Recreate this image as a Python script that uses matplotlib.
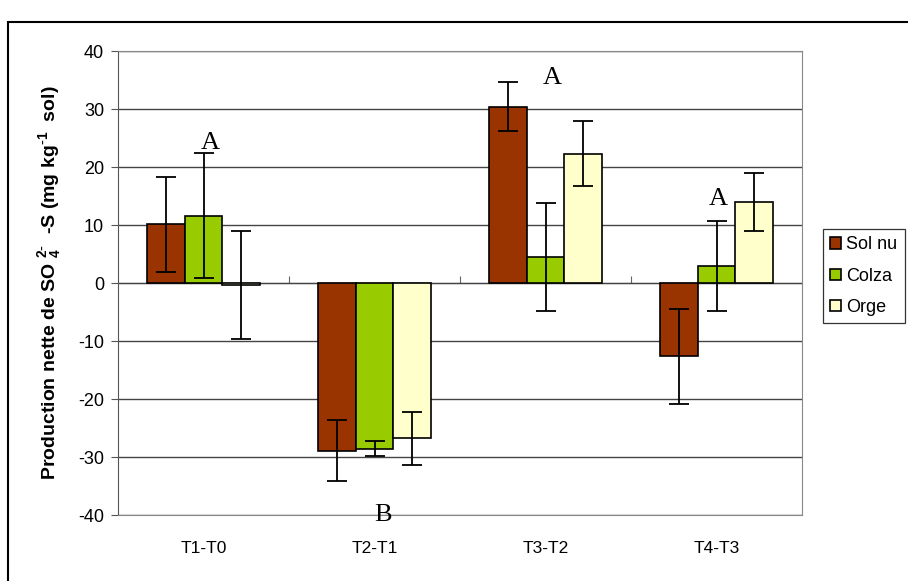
import numpy as np
import matplotlib
matplotlib.use("Agg")
import matplotlib.pyplot as plt
from matplotlib.patches import Rectangle

plt.rcParams['font.family'] = ['Liberation Sans', 'DejaVu Sans']
plt.rcParams['mathtext.default'] = 'regular'
plt.rcParams['axes.unicode_minus'] = False

# data
periodes = ['T1-T0', 'T2-T1', 'T3-T2', 'T4-T3']
series = ['Sol nu', 'Colza', 'Orge']
sol_nu = [10.1, -28.9, 30.4, -12.6]
sol_nu_err = [8.2, 5.2, 4.2, 8.2]
colza = [11.6, -28.6, 4.5, 2.9]
colza_err = [10.8, 1.3, 9.3, 7.8]
orge = [-0.4, -26.8, 22.3, 13.9]
orge_err = [9.3, 4.5, 5.6, 5.0]
couleurs = ['#993300', '#99CC00', '#FFFFCC']

# letters of the statistical groups
lettres = ['A', 'B', 'A', 'A']
lettres_x = [0.04, 1.05, 2.04, 3.01]
lettres_y = [24.1, -40.0, 35.3, 14.5]

W, H = 908, 581
fig = plt.figure(figsize=(W / 100, H / 100), dpi=100)
ax = fig.add_axes([118 / W, 1 - 515 / H, (802 - 118) / W, (515 - 51) / H])

x = np.arange(len(periodes))
w = 0.22
valeurs = [sol_nu, colza, orge]
erreurs = [sol_nu_err, colza_err, orge_err]
for i in range(3):
    ax.bar(x + (i - 1) * w, valeurs[i], w, color=couleurs[i],
           edgecolor='black', linewidth=1.2, label=series[i], zorder=3)
    ax.errorbar(x + (i - 1) * w, valeurs[i], yerr=erreurs[i], fmt='none',
                ecolor='black', elinewidth=1.3, capsize=7, capthick=1.3, zorder=4)

ax.set_xlim(-0.5, 3.5)
ax.set_ylim(-40, 40)
ax.set_yticks(np.arange(-40, 41, 10))
ax.yaxis.grid(True, color='#444444', linewidth=1.0, zorder=0)
ax.set_xticks(x)
ax.set_xticklabels(periodes, fontsize=12.5)
ax.tick_params(axis='x', length=0, pad=19)
ax.tick_params(axis='y', labelsize=13, direction='out', length=5, color='#555555', pad=5)
for s in ['top', 'right', 'bottom']:
    ax.spines[s].set_color('#888888')
ax.spines['left'].set_color('#555555')

# zero line with category separators
sec = ax.secondary_xaxis(0.5)
sec.set_xticks([0.5, 1.5, 2.5])
sec.set_xticklabels([])
sec.tick_params(direction='out', length=5, color='#666666')
sec.spines['bottom'].set_color('black')
sec.spines['bottom'].set_linewidth(1.2)

ax.set_ylabel(r'Production nette de SO $_4^{2\text{-}}$  -S (mg kg$^{\text{-}1}$  sol)',
              fontsize=14, fontweight='bold', labelpad=11)

for t, lx, ly in zip(lettres, lettres_x, lettres_y):
    ax.text(lx, ly, t, family='Liberation Serif', fontsize=19,
            ha='center', va='center', zorder=5)

leg = ax.legend(loc='upper left', bbox_to_anchor=(823 / W, 1 - 229 / H),
                bbox_transform=fig.transFigure, borderaxespad=0, fancybox=False,
                edgecolor='#333333', framealpha=1, fontsize=13, handlelength=0.6,
                handleheight=0.6, handletextpad=0.3, labelspacing=0.8,
                borderpad=0.4)
leg.get_frame().set_linewidth(0.9)

fig.patches.append(Rectangle((8 / W, -0.1), 1.0, 1.1 - 22 / H,
                             transform=fig.transFigure, fill=False,
                             edgecolor='black', linewidth=1.5))

fig.savefig('out.png', dpi=100)
